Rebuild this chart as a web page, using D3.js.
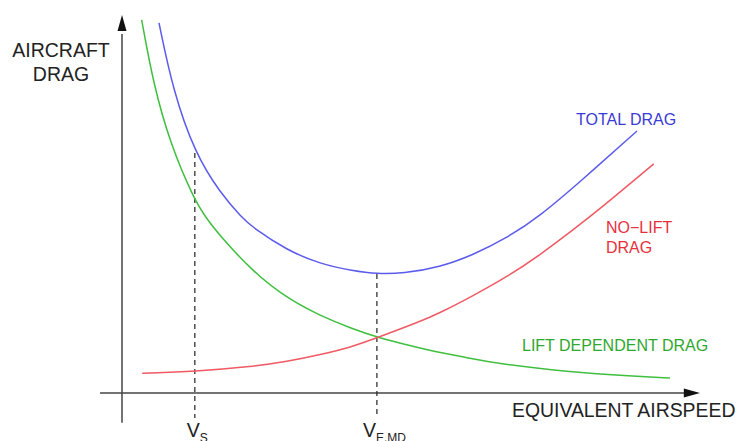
<!DOCTYPE html>
<html>
<head>
<meta charset="utf-8">
<script src="https://cdn.jsdelivr.net/npm/d3@7"></script>
<style>
  body { margin: 0; background: #fff; }
  svg { display: block; font-family: "Liberation Sans", Arial, sans-serif; }
</style>
</head>
<body>
<svg width="741" height="441"></svg>
<script>
// curves: [airspeed, drag] in arbitrary units (0-100)
const totalDrag = [
  [6.4, 97.9], [8.8, 80.2], [12.6, 63.5], [17.0, 52.9], [20.8, 46.3], [22.7, 43.7],
  [28.5, 37.8], [34.3, 34.1], [40.0, 32.3], [44.1, 31.5], [48.6, 31.6], [55.0, 33.3],
  [60.7, 36.5], [66.6, 41.0], [72.3, 46.8], [79.2, 55.8], [89.1, 69.3]
];
const liftDependentDrag = [
  [3.4, 98.7], [5.4, 82.0], [8.3, 66.1], [12.5, 51.1], [14.7, 46.0], [17.0, 41.5],
  [22.7, 32.0], [28.5, 25.1], [34.3, 20.4], [40.0, 16.9], [44.1, 14.8], [48.1, 13.2],
  [51.6, 11.9], [53.8, 11.1], [59.7, 9.3], [65.4, 7.7], [77.0, 5.6], [88.4, 4.4], [94.8, 4.0]
];
const noLiftDrag = [
  [3.5, 5.2], [12.6, 5.7], [22.7, 7.0], [28.5, 8.3], [34.3, 10.1], [40.0, 12.3],
  [44.1, 14.6], [51.6, 18.9], [55.0, 21.2], [60.7, 25.7], [66.6, 30.7], [72.3, 36.5],
  [78.0, 43.1], [82.7, 48.7], [92.0, 60.6]
];
// reference speeds: stall speed and minimum drag speed
const markerNames = ["S", "E,MD"];
const markerSpeeds = [12.6, 44.1];
const markerDrags = [63.5, 31.5];
const markerBottoms = [-6.6, -5.8];

const svg = d3.select("svg");

let xScale = d3.scaleLinear().domain([0, 100]).range([122, 700]);
let yScale = d3.scaleLinear().domain([0, 100]).range([393, 15]);

const axisColor = "#444";

// axes with arrow heads
svg.append("line")
  .attr("x1", xScale(0)).attr("x2", xScale(0))
  .attr("y1", yScale(-7.9)).attr("y2", yScale(95))
  .attr("stroke", axisColor).attr("stroke-width", 1.5);
svg.append("path")
  .attr("d", `M${xScale(0)},${yScale(100)} L${xScale(0) - 4.5},${yScale(95.8)} L${xScale(0) + 4.5},${yScale(95.8)} Z`)
  .attr("fill", "#111");

svg.append("line")
  .attr("x1", xScale(-3.8)).attr("x2", xScale(97.5))
  .attr("y1", yScale(0)).attr("y2", yScale(0))
  .attr("stroke", axisColor).attr("stroke-width", 1.5);
svg.append("path")
  .attr("d", `M${xScale(100)},${yScale(0)} L${xScale(97.2)},${yScale(0) - 4.5} L${xScale(97.2)},${yScale(0) + 4.5} Z`)
  .attr("fill", "#111");

// dashed drop lines
markerSpeeds.forEach((v, i) => {
  svg.append("line")
    .attr("x1", xScale(v)).attr("x2", xScale(v))
    .attr("y1", yScale(markerDrags[i])).attr("y2", yScale(markerBottoms[i]))
    .attr("stroke", "#222").attr("stroke-width", 1.2)
    .attr("stroke-dasharray", "5,4");
});

// curves (basis smooths out the reading noise)
let line = d3.line()
  .x(d => xScale(d[0]))
  .y(d => yScale(d[1]))
  .curve(d3.curveBasis);

const series = [
  {data: liftDependentDrag, color: "#3fbf3f"},
  {data: noLiftDrag, color: "#f05a64"},
  {data: totalDrag, color: "#5c5cec"}
];
series.forEach(s => {
  svg.append("path")
    .attr("d", line(s.data))
    .attr("fill", "none")
    .attr("stroke", s.color)
    .attr("stroke-width", 1.5);
});

// texts
function label(x, y, txt, size, color, anchor) {
  return svg.append("text")
    .attr("x", x).attr("y", y)
    .attr("font-size", size)
    .attr("fill", color)
    .attr("text-anchor", anchor || "start")
    .text(txt);
}

label(61, 57, "AIRCRAFT", "19.5px", "#222", "middle");
label(61, 81, "DRAG", "19.5px", "#222", "middle");
label(512, 417, "EQUIVALENT AIRSPEED", "19.4px", "#222");
label(576, 125, "TOTAL DRAG", "16px", "#3a3ad6");
label(606, 233, "NO\u2212LIFT", "16px", "#e8303c");
label(606, 253, "DRAG", "16px", "#e8303c");
label(522, 351, "LIFT DEPENDENT DRAG", "16px", "#2ea82e");

markerSpeeds.forEach((v, i) => {
  let shift = i === 0 ? -8 : -14;
  let t = svg.append("text")
    .attr("x", xScale(v) + shift).attr("y", 437)
    .attr("font-size", "19.5px")
    .attr("fill", "#222");
  t.append("tspan").text("V");
  t.append("tspan")
    .attr("font-size", "12px")
    .attr("dy", 5)
    .text(markerNames[i]);
});
</script>
</body>
</html>
